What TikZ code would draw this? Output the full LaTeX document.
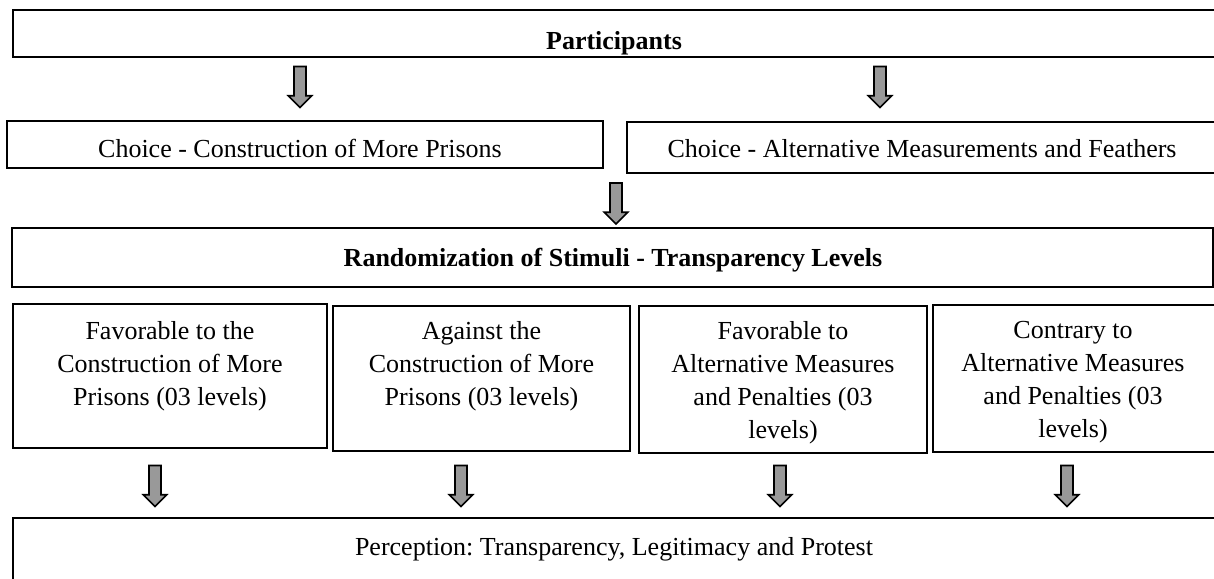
\documentclass[tikz,border=0pt]{standalone}
\usepackage{fontspec}
\setmainfont{Liberation Serif}
\usetikzlibrary{shapes.arrows}
\frenchspacing

\begin{document}
\begin{tikzpicture}
[x=0.5pt, y=-0.5pt,
 box/.style = {draw, rectangle, line width=0.9pt, inner sep=0pt},
 txt/.style = {align=center, inner sep=0pt, font=\fontsize{13}{16.5}\selectfont},
 downarrow/.style = {draw, single arrow, shape border rotate=270, fill=black!40, line width=0.8pt,
   inner sep=2.6pt, minimum height=20.5pt, single arrow head extend=2.9pt},]

\useasboundingbox (0,0) rectangle (1214,578);

% boxes
\node (part) at (616.5,33.5)[box, minimum width=603.5pt, minimum height=23.5pt] {};
\node (c1) at (305,144.5)[box, minimum width=298pt, minimum height=23.5pt] {};
\node (c2) at (923.5,147.5)[box, minimum width=296.5pt, minimum height=25.5pt] {};
\node (rand) at (612.5,257.5)[box, minimum width=600.5pt, minimum height=29.5pt] {};
\node (b1) at (170,376)[box, minimum width=157pt, minimum height=72pt] {};
\node (b2) at (481.5,378.5)[box, minimum width=148.5pt, minimum height=72.5pt] {};
\node (b3) at (783,379.5)[box, minimum width=144pt, minimum height=73.5pt] {};
\node (b4) at (1076.5,378.5)[box, minimum width=143.5pt, minimum height=73.5pt] {};
\node (perc) at (616.5,559)[box, minimum width=603.5pt, minimum height=41pt] {};

% texts
\node (part-t) at (614,49)[txt, anchor=base, font=\fontsize{13}{16}\selectfont\bfseries] {Participants};
\node (c1-t) at (300,157)[txt, anchor=base] {Choice - Construction of More Prisons};
\node (c2-t) at (922,157)[txt, anchor=base] {Choice - Alternative Measurements and Feathers};
\node (rand-t) at (613,266)[txt, anchor=base, font=\fontsize{13}{16}\selectfont\bfseries] {Randomization of Stimuli - Transparency Levels};
\node (b1-t) at (170,321)[txt, anchor=north] {Favorable to the\\Construction of More\\Prisons (03 levels)};
\node (b2-t) at (481.5,321)[txt, anchor=north] {Against the\\Construction of More\\Prisons (03 levels)};
\node (b3-t) at (783,321)[txt, anchor=north] {Favorable to\\Alternative Measures\\and Penalties (03\\levels)};
\node (b4-t) at (1073,321)[txt, anchor=north] {Contrary to\\Alternative Measures\\and Penalties (03\\levels)};
\node (perc-t) at (614,555)[txt, anchor=base] {Perception: Transparency, Legitimacy and Protest};

% arrows
\node (a1) at (300,84)[downarrow] {};
\node (a2) at (880,84)[downarrow] {};
\node (a3) at (616,200.5)[downarrow] {};
\node (a4) at (155,483)[downarrow] {};
\node (a5) at (461,483)[downarrow] {};
\node (a6) at (780,483)[downarrow] {};
\node (a7) at (1067,483)[downarrow] {};
\end{tikzpicture}
\end{document}
